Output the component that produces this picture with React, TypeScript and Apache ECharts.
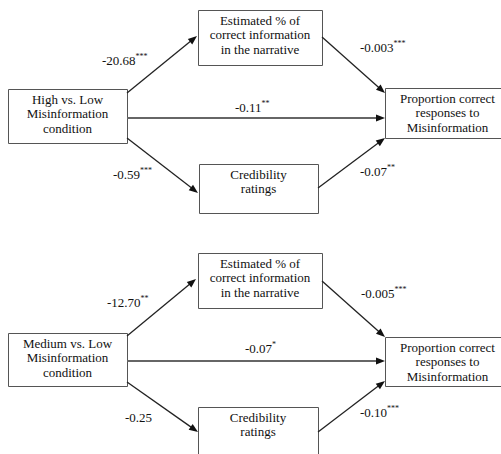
import React, { useEffect, useRef } from "react";
import * as echarts from "echarts";

// ---- Diagram content (data) ----
const conditionLabels = [
  "High vs. Low\nMisinformation\ncondition",
  "Medium vs. Low\nMisinformation\ncondition",
];
const mediator1Label = "Estimated % of\ncorrect information\nin the narrative";
const mediator2Label = "Credibility\nratings";
const outcomeLabel = "Proportion correct\nresponses to\nMisinformation";

// path coefficients per panel [High vs Low, Medium vs Low]
const coefA1 = ["-20.68", "-12.70"]; // condition -> estimated %
const starsA1 = ["***", "**"];
const coefA2 = ["-0.59", "-0.25"]; // condition -> credibility
const starsA2 = ["***", ""];
const coefB1 = ["-0.003", "-0.005"]; // estimated % -> outcome
const starsB1 = ["***", "***"];
const coefB2 = ["-0.07", "-0.10"]; // credibility -> outcome
const starsB2 = ["**", "***"];
const coefC = ["-0.11", "-0.07"]; // direct
const starsC = ["**", "*"];

// ---- Layout (positions only) ----
type Box = { x: number; y: number; w: number; h: number };
type Pt = [number, number];
const layouts: {
  left: Box; med1: Box; med2: Box; out: Box;
  eA1: [Pt, Pt]; eA2: [Pt, Pt]; eB1: [Pt, Pt]; eB2: [Pt, Pt]; eC: [Pt, Pt];
  lA1: Pt; lA2: Pt; lB1: Pt; lB2: Pt; lC: Pt;
}[] = [
  {
    left: { x: 8, y: 89, w: 119, h: 54 },
    med1: { x: 198, y: 10, w: 124, h: 55 },
    med2: { x: 199, y: 164, w: 119, h: 49 },
    out: { x: 385, y: 88, w: 125, h: 50 },
    eA1: [[127, 93], [197, 36]],
    eA2: [[127, 138], [198, 193]],
    eB1: [[322, 37], [385, 93]],
    eB2: [[318, 188], [385, 138]],
    eC: [[127, 118], [385, 118]],
    lA1: [102, 60], lA2: [113, 174], lB1: [360, 47], lB2: [360, 171], lC: [235, 107],
  },
  {
    left: { x: 8, y: 333, w: 119, h: 53 },
    med1: { x: 198, y: 253, w: 124, h: 55 },
    med2: { x: 198, y: 407, w: 120, h: 60 },
    out: { x: 385, y: 337, w: 125, h: 49 },
    eA1: [[127, 336], [196, 279]],
    eA2: [[127, 382], [198, 432]],
    eB1: [[322, 281], [385, 337]],
    eB2: [[318, 432], [385, 381]],
    eC: [[127, 361], [385, 361]],
    lA1: [107, 302], lA2: [125, 417], lB1: [361, 293], lB2: [360, 412], lC: [245, 348],
  },
];

const FAMILY = "Liberation Serif, serif";
const FONT13 = `13px ${FAMILY}`;
const FONT8 = `8px ${FAMILY}`;

function boxEls(b: Box, label: string) {
  return [
    {
      type: "rect",
      shape: { x: b.x + 0.5, y: b.y + 0.5, width: b.w, height: b.h },
      style: { fill: "#fff", stroke: "#555", lineWidth: 1 },
      z: 1,
    },
    {
      type: "text",
      x: b.x + b.w / 2,
      y: b.y + 3,
      z: 2,
      style: {
        text: label,
        font: FONT13,
        lineHeight: 14.5,
        fill: "#111",
        align: "center",
        textAlign: "center",
        verticalAlign: "top",
        textVerticalAlign: "top",
      },
    },
  ];
}

function arrowEls(e: [Pt, Pt], thick = false) {
  const [[x1, y1], [x2, y2]] = e;
  const dx = x2 - x1, dy = y2 - y1;
  const len = Math.hypot(dx, dy);
  const ux = dx / len, uy = dy / len;
  const hl = 9, hw = 3.5;
  const bx = x2 - ux * hl, by = y2 - uy * hl;
  const px = -uy, py = ux;
  return [
    {
      type: "line",
      shape: { x1, y1, x2: bx + ux * 1, y2: by + uy * 1 },
      style: { stroke: thick ? "#666" : "#222", lineWidth: thick ? 2 : 1.3 },
      z: 3,
    },
    {
      type: "polygon",
      shape: {
        points: [
          [x2, y2],
          [bx + px * hw, by + py * hw],
          [bx - px * hw, by - py * hw],
        ],
      },
      style: { fill: "#111" },
      z: 3,
    },
  ];
}

function labelEl(p: Pt, coef: string, stars: string) {
  return {
    type: "text",
    x: p[0],
    y: p[1],
    z: 4,
    style: {
      text: stars ? `{a|${coef}}{s|${stars}}` : `{a|${coef}}`,
      font: FONT13,
      align: "left",
      textAlign: "left",
      verticalAlign: "middle",
      textVerticalAlign: "middle",
      rich: {
        a: { fontFamily: FAMILY, fontSize: 13, fill: "#111", lineHeight: 16 },
        s: {
          fontFamily: FAMILY,
          fontSize: 8,
          fill: "#111",
          lineHeight: 16,
          verticalAlign: "top",
          padding: [0, 0, 8, 0],
        },
      },
    },
  };
}

export default function App() {
  const ref = useRef<HTMLDivElement>(null);
  useEffect(() => {
    if (!ref.current) return;
    const chart = echarts.init(ref.current, null, { renderer: "svg" });
    const elements: any[] = [];
    layouts.forEach((L, i) => {
      elements.push(...arrowEls(L.eA1));
      elements.push(...arrowEls(L.eA2));
      elements.push(...arrowEls(L.eB1));
      elements.push(...arrowEls(L.eB2));
      elements.push(...arrowEls(L.eC, true));
      elements.push(...boxEls(L.left, conditionLabels[i]));
      elements.push(...boxEls(L.med1, mediator1Label));
      elements.push(...boxEls(L.med2, mediator2Label));
      elements.push(...boxEls(L.out, outcomeLabel));
      elements.push(labelEl(L.lA1, coefA1[i], starsA1[i]));
      elements.push(labelEl(L.lA2, coefA2[i], starsA2[i]));
      elements.push(labelEl(L.lB1, coefB1[i], starsB1[i]));
      elements.push(labelEl(L.lB2, coefB2[i], starsB2[i]));
      elements.push(labelEl(L.lC, coefC[i], starsC[i]));
    });
    chart.setOption({
      animation: false,
      backgroundColor: "#fff",
      graphic: { elements },
    });
    return () => chart.dispose();
  }, []);
  return (
    <div
      ref={ref}
      style={{ position: "fixed", left: 0, top: 0, width: 501, height: 454, background: "#fff" }}
    />
  );
}
